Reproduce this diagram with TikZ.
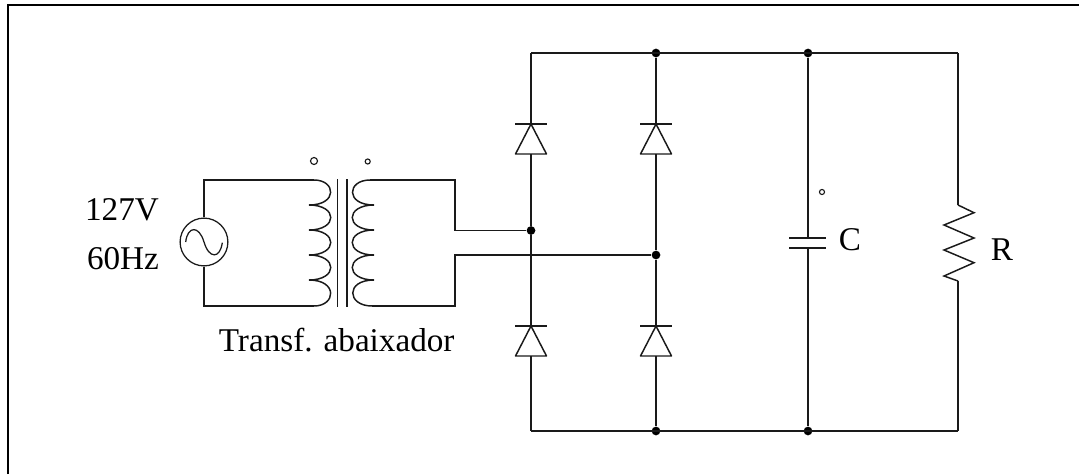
\documentclass[tikz,border=0pt]{standalone}
\usepackage{fontspec}
\usepackage{xcolor}
\usepackage{tikz}
\usetikzlibrary{calc}
\setmainfont{Liberation Serif}
\definecolor{wire}{HTML}{1A1A1A}
\definecolor{ink}{HTML}{000000}
\tikzset{
  base/.style={draw=wire, line width=1.05pt, line join=miter},
  thin wire/.style={draw=wire, line width=0.9pt},
  frm/.style={draw=ink, line width=2.1pt},
  dot/.style={circle, fill=ink, inner sep=0pt, minimum size=6.2pt},
  hollow/.style={circle, draw=wire, line width=0.8pt, inner sep=0pt},
  src/.style={circle, draw=wire, line width=0.9pt, inner sep=0pt, minimum size=34pt},
  lab/.style={text=ink, font=\fontsize{23.6}{26}\selectfont, inner sep=0pt}
}

\begin{document}
\begin{tikzpicture}[x=0.025cm,y=-0.025cm]
  \useasboundingbox (0,0) rectangle (1079,474);
  \draw[frm] (8,474) -- (8,5) -- (1079,5);

  % source and primary
  \node[src] (S) at (204,242) {};
  \coordinate (Pt) at (314,180);
  \coordinate (Pb) at (314,306);
  \draw[base] (S.north) |- (Pt);
  \draw[base] (S.south) |- (Pb);
  \draw[thin wire] (185.7,242) .. controls (187.5,226) and (199,225) .. (204,242)
    .. controls (209,259) and (220,259) .. (222.3,242.7);
  \draw[base] (Pt) .. controls (336,180) and (338,205) .. (309,205);
  \draw[base] (309,205) .. controls (338,205) and (338,230) .. (309,230);
  \draw[base] (309,230) .. controls (338,230) and (338,255) .. (309,255);
  \draw[base] (309,255) .. controls (338,255) and (338,280) .. (309,280);
  \draw[base] (309,280) .. controls (338,280) and (336,306) .. (Pb);

  % core
  \coordinate (Ca) at (337.5,179);
  \coordinate (Cb) at (337.5,307);
  \coordinate (Cc) at (347,179);
  \coordinate (Cd) at (347,307);
  \draw[base] (Ca) -- (Cb);
  \draw[base] (Cc) -- (Cd);
  \node[hollow, minimum size=5pt] (Ha) at (314,161) {};
  \node[hollow, minimum size=3.6pt] (Hb) at (367.7,161.5) {};

  % secondary
  \coordinate (Qt) at (370,180);
  \coordinate (Qb) at (372,306);
  \draw[base] (Qt) .. controls (347,180) and (345,205) .. (374,205);
  \draw[base] (374,205) .. controls (345,205) and (345,230) .. (374,230);
  \draw[base] (374,230) .. controls (345,230) and (345,255) .. (374,255);
  \draw[base] (374,255) .. controls (345,255) and (345,280) .. (374,280);
  \draw[base] (374,280) .. controls (345,280) and (347,306) .. (Qb);

  % bridge
  \coordinate (Tl) at (531,53);
  \coordinate (Bl) at (531,431);
  \coordinate (Tr) at (958,53);
  \coordinate (Br) at (958,431);
  \node[dot] (Nl) at (531,230.5) {};
  \node[dot] (Nr) at (656,255) {};
  \node[dot] (Ta) at (656,53) {};
  \node[dot] (Tb) at (808,53) {};
  \node[dot] (Ba) at (656,431) {};
  \node[dot] (Bb) at (808,431) {};
  \draw[base] (Qt) -- (455,180) |- (Nl);
  \draw[base] (Qb) -- (455,306) |- (Nr);
  \draw[base] (Tl) -- (Tr);
  \draw[base] (Bl) -- (Br);

  % diodes
  \def\diode#1#2#3{
    \coordinate (#1k) at #2;
    \coordinate (#1a) at #3;
    \draw[base] ($(#1k)+(-16,0)$) -- ($(#1k)+(16,0)$);
    \draw[base, line join=round] (#1k) -- ($(#1a)+(-15.5,0)$) -- ($(#1a)+(15.5,0)$) -- cycle;
  }
  \diode{Da}{(531,124)}{(531,154)}
  \diode{Db}{(656,124)}{(656,154)}
  \diode{Dc}{(531,326)}{(531,356)}
  \diode{Dd}{(656,326)}{(656,356)}
  \draw[base] (Tl) -- (Dak);
  \draw[base] (Daa) -- (Nl);
  \draw[base] (Nl) -- (Dck);
  \draw[base] (Dca) -- (Bl);
  \draw[base] (Ta) -- (Dbk);
  \draw[base] (Dba) -- (Nr);
  \draw[base] (Nr) -- (Ddk);
  \draw[base] (Dda) -- (Ba);

  % capacitor
  \coordinate (Ka) at (808,238);
  \coordinate (Kb) at (808,248);
  \draw[base] (Tb) -- (Ka);
  \draw[base] (Kb) -- (Bb);
  \draw[base] ($(Ka)+(-19,0)$) -- ($(Ka)+(18,0)$);
  \draw[base] ($(Kb)+(-19,0)$) -- ($(Kb)+(18,0)$);
  \node[hollow, minimum size=3.6pt] (Hc) at (822,192) {};

  % resistor
  \coordinate (Ra) at (958,205);
  \coordinate (Rb) at (958,281);
  \draw[base] (Tr) -- (Ra);
  \draw[base] (Rb) -- (Br);
  \draw[base] (Ra) -- (974,212.7) -- (944,225) -- (974,238) -- (944,250)
    -- (974,262.7) -- (944,276) -- (Rb);

  \node[lab] (Lv) at (122,210) {127V};
  \node[lab] (Lf) at (123,259) {60Hz};
  \node[lab] (Lt) at (336.7,340) {Transf. abaixador};
  \node[lab] (Lc) at (850,240) {C};
  \node[lab] (Lr) at (1002,250) {R};
\end{tikzpicture}
\end{document}
